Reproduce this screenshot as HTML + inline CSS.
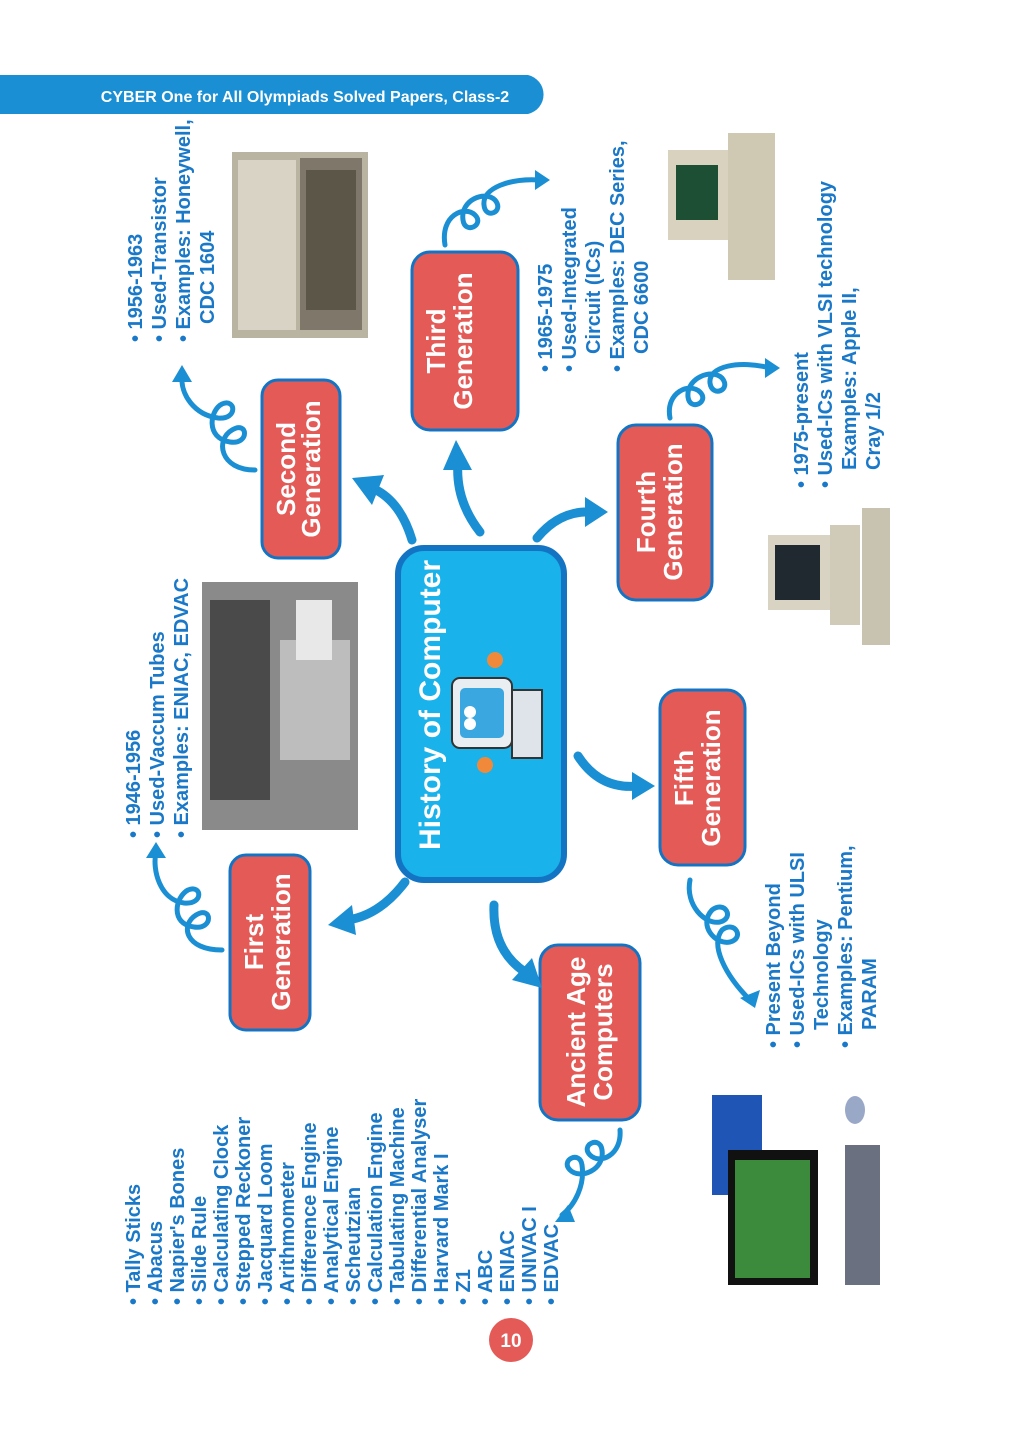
<!DOCTYPE html>
<html><head><meta charset="utf-8"><style>
html,body{margin:0;padding:0;background:#fff;}
svg{display:block;}
text{font-family:"Liberation Sans",sans-serif;}
</style></head><body>
<svg width="1024" height="1440" viewBox="0 0 1024 1440" xmlns="http://www.w3.org/2000/svg">
<!-- header -->
<path d="M0 75 H528 A20 20 0 0 1 528 114 H0 Z" fill="#1b8fd3"/>
<text x="305" y="102" font-size="16" font-weight="bold" fill="#fff" text-anchor="middle">CYBER One for All Olympiads Solved Papers, Class-2</text>

<!-- images -->
<rect x="232" y="152" width="136" height="186" fill="#b9b3a2"/>
<rect x="238" y="160" width="58" height="170" fill="#d8d3c4"/>
<rect x="300" y="158" width="62" height="172" fill="#7f776a"/>
<rect x="306" y="170" width="50" height="140" fill="#5b5648"/>
<rect x="202" y="582" width="156" height="248" fill="#8a8a8a"/>
<rect x="210" y="600" width="60" height="200" fill="#4a4a4a"/>
<rect x="280" y="640" width="70" height="120" fill="#bdbdbd"/>
<rect x="296" y="600" width="36" height="60" fill="#e8e8e8"/>
<rect x="668" y="150" width="60" height="90" fill="#d9d2bf"/>
<rect x="676" y="165" width="42" height="55" fill="#1d4f35"/>
<rect x="728" y="133" width="47" height="147" fill="#cfc8b3"/>
<rect x="768" y="535" width="62" height="75" fill="#d8d3c3"/>
<rect x="775" y="545" width="45" height="55" fill="#202830"/>
<rect x="830" y="525" width="30" height="100" fill="#d0cab8"/>
<rect x="862" y="508" width="28" height="137" fill="#c8c2b0"/>
<rect x="712" y="1095" width="50" height="100" fill="#1f55b5"/>
<rect x="728" y="1150" width="90" height="135" fill="#111"/>
<rect x="735" y="1160" width="75" height="118" fill="#3c8a3c"/>
<rect x="845" y="1145" width="35" height="140" fill="#6a7080"/>
<ellipse cx="855" cy="1110" rx="10" ry="14" fill="#9aa8c8"/>

<!-- center node -->
<rect x="398" y="548" width="166" height="332" rx="26" fill="#19b2ea" stroke="#1474c4" stroke-width="6"/>
<text transform="translate(440,850) rotate(-90)" font-size="30" font-weight="bold" fill="#fff">History of Computer</text>
<g>
<rect x="452" y="678" width="60" height="70" rx="8" fill="#e9eef2" stroke="#333" stroke-width="2"/>
<rect x="460" y="688" width="44" height="50" rx="5" fill="#3aa7e0"/>
<circle cx="470" cy="712" r="6" fill="#fff"/><circle cx="470" cy="724" r="6" fill="#fff"/>
<rect x="512" y="690" width="30" height="68" fill="#dfe4ea" stroke="#333" stroke-width="2"/>
<circle cx="495" cy="660" r="8" fill="#f08a3a"/><circle cx="485" cy="765" r="8" fill="#f08a3a"/>
</g>

<!-- generation nodes -->
<g fill="#e35a57" stroke="#1474c4" stroke-width="3">
<rect x="262" y="380" width="78" height="178" rx="16"/>
<rect x="412" y="252" width="106" height="178" rx="18"/>
<rect x="618" y="425" width="94" height="175" rx="18"/>
<rect x="660" y="690" width="85" height="175" rx="18"/>
<rect x="230" y="855" width="80" height="175" rx="16"/>
<rect x="540" y="945" width="100" height="175" rx="18"/>
</g>
<g font-size="26" font-weight="bold" fill="#fff" text-anchor="middle">
<text transform="translate(295,469) rotate(-90)">Second</text>
<text transform="translate(320,469) rotate(-90)">Generation</text>
<text transform="translate(445,341) rotate(-90)">Third</text>
<text transform="translate(472,341) rotate(-90)">Generation</text>
<text transform="translate(655,512) rotate(-90)">Fourth</text>
<text transform="translate(682,512) rotate(-90)">Generation</text>
<text transform="translate(693,778) rotate(-90)">Fifth</text>
<text transform="translate(720,778) rotate(-90)">Generation</text>
<text transform="translate(263,942) rotate(-90)">First</text>
<text transform="translate(290,942) rotate(-90)">Generation</text>
<text transform="translate(585,1032) rotate(-90)">Ancient Age</text>
<text transform="translate(612,1032) rotate(-90)">Computers</text>
</g>

<!-- thick arrows -->
<g fill="none" stroke="#1b8fd3" stroke-width="9" stroke-linecap="round">
<path d="M412 540 Q400 500 372 488"/>
<path d="M480 532 Q455 500 458 462"/>
<path d="M537 538 Q560 510 592 512"/>
<path d="M578 756 Q600 790 638 786"/>
<path d="M494 905 Q492 950 525 972"/>
<path d="M405 882 Q380 915 348 920"/>
</g>
<g fill="#1b8fd3">
<polygon points="352,478 384,475 372,505"/>
<polygon points="456,440 443,470 472,470"/>
<polygon points="608,512 585,497 585,527"/>
<polygon points="655,786 632,772 632,800"/>
<polygon points="542,988 512,980 532,958"/>
<polygon points="328,925 352,905 356,935"/>
</g>

<!-- curly connectors -->
<g fill="none" stroke="#1b8fd3" stroke-width="5" stroke-linecap="round">
<path d="M255 470 C220 470 215 440 232 430 C248 420 250 445 230 442 C205 438 210 410 222 404 C236 398 238 420 218 418 C195 415 180 395 182 375"/>
<path d="M445 245 C440 215 465 205 475 215 C485 225 465 235 463 220 C460 200 485 190 495 200 C505 212 485 220 484 205 C482 188 510 178 540 180"/>
<path d="M670 418 C665 392 690 382 700 392 C710 402 690 412 688 397 C686 378 712 368 722 378 C732 390 712 398 710 383 C708 366 740 360 770 368"/>
<path d="M690 880 C685 905 705 925 720 922 C735 918 725 900 712 910 C698 925 715 945 730 942 C745 938 735 920 722 930 C710 945 725 975 750 1000"/>
<path d="M222 950 C185 950 180 925 196 915 C212 905 214 930 194 927 C170 924 175 897 188 890 C202 884 204 905 184 903 C160 900 152 870 156 852"/>
<path d="M620 1130 C622 1155 600 1165 590 1155 C580 1145 600 1135 602 1150 C605 1170 580 1180 570 1170 C560 1160 580 1150 582 1165 C585 1185 575 1205 562 1215"/>
</g>
<g fill="#1b8fd3">
<polygon points="182,365 172,382 192,382"/>
<polygon points="550,180 535,170 535,190"/>
<polygon points="780,368 765,358 765,378"/>
<polygon points="755,1008 740,998 760,990"/>
<polygon points="156,842 146,858 166,858"/>
<polygon points="555,1222 568,1205 575,1222"/>
</g>

<!-- lists -->
<g font-size="20" font-weight="bold" fill="#1a78c8">
<text transform="translate(140,1305) rotate(-90)">• Tally Sticks</text>
<text transform="translate(162,1305) rotate(-90)">• Abacus</text>
<text transform="translate(184,1305) rotate(-90)">• Napier's Bones</text>
<text transform="translate(206,1305) rotate(-90)">• Slide Rule</text>
<text transform="translate(228,1305) rotate(-90)">• Calculating Clock</text>
<text transform="translate(250,1305) rotate(-90)">• Stepped Reckoner</text>
<text transform="translate(272,1305) rotate(-90)">• Jacquard Loom</text>
<text transform="translate(294,1305) rotate(-90)">• Arithmometer</text>
<text transform="translate(316,1305) rotate(-90)">• Difference Engine</text>
<text transform="translate(338,1305) rotate(-90)">• Analytical Engine</text>
<text transform="translate(360,1305) rotate(-90)">• Scheutzian</text>
<text transform="translate(382,1305) rotate(-90)">• Calculation Engine</text>
<text transform="translate(404,1305) rotate(-90)">• Tabulating Machine</text>
<text transform="translate(426,1305) rotate(-90)">• Differential Analyser</text>
<text transform="translate(448,1305) rotate(-90)">• Harvard Mark I</text>
<text transform="translate(470,1305) rotate(-90)">• Z1</text>
<text transform="translate(492,1305) rotate(-90)">• ABC</text>
<text transform="translate(514,1305) rotate(-90)">• ENIAC</text>
<text transform="translate(536,1305) rotate(-90)">• UNIVAC I</text>
<text transform="translate(558,1305) rotate(-90)">• EDVAC</text>

<text transform="translate(140,838) rotate(-90)">• 1946-1956</text>
<text transform="translate(164,838) rotate(-90)">• Used-Vaccum Tubes</text>
<text transform="translate(188,838) rotate(-90)">• Examples: ENIAC, EDVAC</text>

<text transform="translate(142,342) rotate(-90)">• 1956-1963</text>
<text transform="translate(166,342) rotate(-90)">• Used-Transistor</text>
<text transform="translate(190,342) rotate(-90)">• Examples: Honeywell,</text>
<text transform="translate(214,324) rotate(-90)">CDC 1604</text>

<text transform="translate(552,372) rotate(-90)">• 1965-1975</text>
<text transform="translate(576,372) rotate(-90)">• Used-Integrated</text>
<text transform="translate(600,354) rotate(-90)">Circuit (ICs)</text>
<text transform="translate(624,372) rotate(-90)">• Examples: DEC Series,</text>
<text transform="translate(648,354) rotate(-90)">CDC 6600</text>

<text transform="translate(808,488) rotate(-90)">• 1975-present</text>
<text transform="translate(832,488) rotate(-90)">• Used-ICs with VLSI technology</text>
<text transform="translate(856,470) rotate(-90)">Examples: Apple II,</text>
<text transform="translate(880,470) rotate(-90)">Cray 1/2</text>

<text transform="translate(780,1048) rotate(-90)">• Present Beyond</text>
<text transform="translate(804,1048) rotate(-90)">• Used-ICs with ULSI</text>
<text transform="translate(828,1030) rotate(-90)">Technology</text>
<text transform="translate(852,1048) rotate(-90)">• Examples: Pentium,</text>
<text transform="translate(876,1030) rotate(-90)">PARAM</text>
</g>

<!-- page number -->
<circle cx="511" cy="1340" r="22" fill="#e35a57"/>
<text x="511" y="1347" font-size="19" font-weight="bold" fill="#fff" text-anchor="middle">10</text>
</svg>
</body></html>
